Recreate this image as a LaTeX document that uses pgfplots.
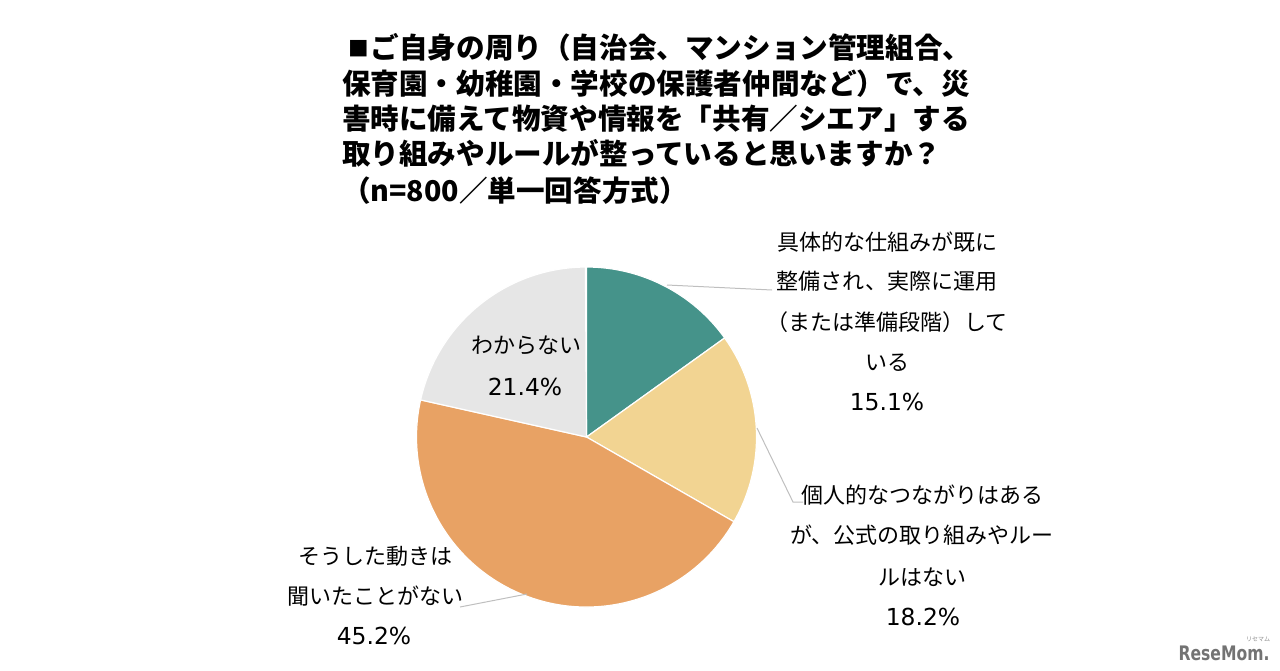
\documentclass[border=0pt]{standalone}
\usepackage{pgfplots}
\pgfplotsset{compat=1.18}
\usepackage{pgfplotstable}
\usepackage{fontspec}
\usepackage{graphicx}
\newfontfamily\cjk{Noto Sans CJK JP}
\newfontfamily\num{DejaVu Sans}
\definecolor{cTeal}{HTML}{45938A}
\definecolor{cYellow}{HTML}{F2D492}
\definecolor{cOrange}{HTML}{E8A264}
\definecolor{cGray}{HTML}{E6E6E6}
\definecolor{cLine}{HTML}{BFBFBF}

% shares in percent, clockwise from 12 o'clock
\pgfplotstableread{
share
15.1
18.2
45.2
21.4
}\piedata

\newcommand\ttl[2]{\node[anchor=base west,font=\fontsize{14.3}{17}\selectfont\cjk\bfseries] at (axis cs:335,#1) {#2};}
\newcommand\lab[3]{\node[anchor=base,font=\fontsize{11}{13}\selectfont\cjk] at (axis cs:#1,#2) {#3};}
\newcommand\pct[3]{\node[anchor=base,font=\fontsize{11.7}{13}\selectfont\num] at (axis cs:#1,#2) {#3};}

\begin{document}
\begin{tikzpicture}
\pgfplotstablegetelem{0}{share}\of\piedata \let\va\pgfplotsretval
\pgfplotstablegetelem{1}{share}\of\piedata \let\vb\pgfplotsretval
\pgfplotstablegetelem{2}{share}\of\piedata \let\vc\pgfplotsretval
\pgfplotstablegetelem{3}{share}\of\piedata \let\vd\pgfplotsretval
\pgfmathsetmacro\aA{90-3.6*\va}
\pgfmathsetmacro\aB{\aA-3.6*\vb}
\pgfmathsetmacro\aC{\aB-3.6*\vc}
\pgfmathsetmacro\aD{\aC-3.6*\vd}
\begin{axis}[
  width=640pt, height=335pt, scale only axis,
  xmin=0, xmax=1280, ymin=0, ymax=670, y dir=reverse,
  hide axis, clip=false,
]
\addplot[no marks, fill=cTeal, draw=white, line width=0.6pt] coordinates {(586.5,437)}
  -- ++(90:85pt) arc[start angle=90, end angle=\aA, radius=85pt] -- cycle;
\addplot[no marks, fill=cYellow, draw=white, line width=0.6pt] coordinates {(586.5,437)}
  -- ++(\aA:85pt) arc[start angle=\aA, end angle=\aB, radius=85pt] -- cycle;
\addplot[no marks, fill=cOrange, draw=white, line width=0.6pt] coordinates {(586.5,437)}
  -- ++(\aB:85pt) arc[start angle=\aB, end angle=\aC, radius=85pt] -- cycle;
\addplot[no marks, fill=cGray, draw=white, line width=0.6pt] coordinates {(586.5,437)}
  -- ++(\aC:85pt) arc[start angle=\aC, end angle=\aD, radius=85pt] -- cycle;

% leader lines
\draw[cLine, line width=0.5pt] (axis cs:667,285) -- (axis cs:772,290);
\draw[cLine, line width=0.5pt] (axis cs:757,428) -- (axis cs:793,502) -- (axis cs:803,502);
\draw[cLine, line width=0.5pt] (axis cs:527,594) -- (axis cs:460,607);

% title
\ttl{58}{\hspace*{3pt}\raisebox{1pt}{\scalebox{0.72}{■}}\hspace*{1pt}ご自身の周り（自治会、マンション管理組合、}
\ttl{94}{保育園・幼稚園・学校の保護者仲間など）で、災}
\ttl{129}{害時に備えて物資や情報を「共有／シエア」する}
\ttl{164}{取り組みやルールが整っていると思いますか？}
\ttl{201}{（n=800／単一回答方式）}

% labels
\lab{887}{250.5}{具体的な仕組みが既に}
\lab{887}{289.5}{整備され、実際に運用}
\lab{887}{330.5}{（または準備段階）して}
\lab{887}{370.5}{いる}
\pct{887}{410.5}{15.1\%}

\lab{922}{503.5}{個人的なつながりはある}
\lab{922}{543.5}{が、公式の取り組みやルー}
\lab{922}{585.5}{ルはない}
\pct{923}{625.5}{18.2\%}

\lab{375}{564.5}{そうした動きは}
\lab{375}{604.5}{聞いたことがない}
\pct{374}{644.5}{45.2\%}

\lab{526}{353.5}{わからない}
\pct{525}{395}{21.4\%}

% watermark
\node[anchor=base,text=black!55,font=\fontsize{10}{12}\selectfont\num\bfseries] at (axis cs:1224,660) {\scalebox{0.78}[1]{ReseMom.}};
\node[anchor=base,text=black!45,font=\fontsize{3}{4}\selectfont\cjk] at (axis cs:1258,641) {リセマム};
\end{axis}
\path[use as bounding box] (0,0) rectangle (640pt,335pt);
\end{tikzpicture}
\end{document}
